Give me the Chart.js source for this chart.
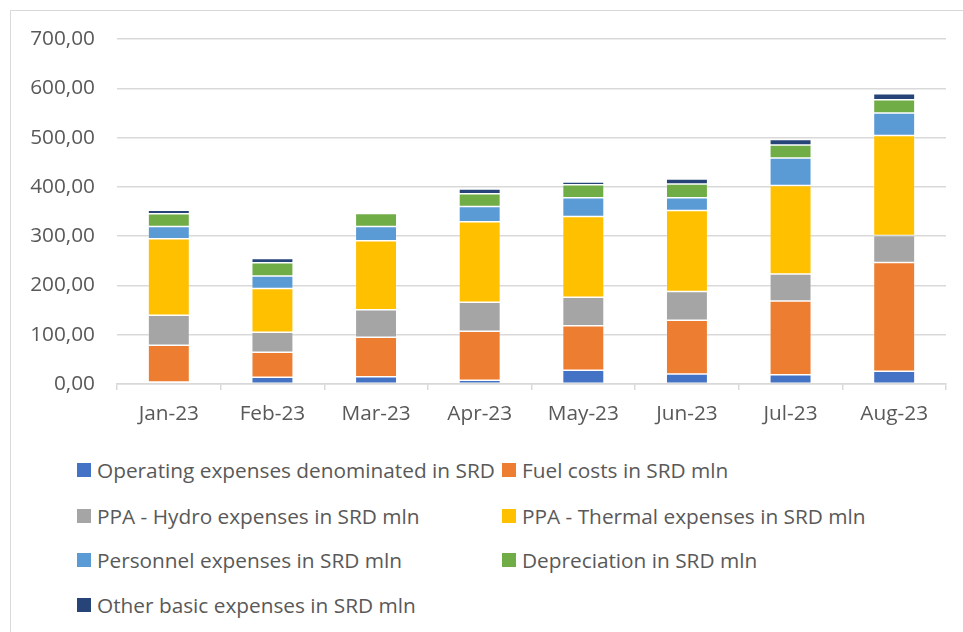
<!DOCTYPE html>
<html>
<head>
<meta charset="utf-8">
<script src="https://cdn.jsdelivr.net/npm/chart.js@4.4.1/dist/chart.umd.min.js"></script>
<style>
  html, body { margin: 0; padding: 0; background: #fff; }
  body { width: 963px; height: 632px; position: relative; overflow: hidden; font-family: "Open Sans", sans-serif; }
  #frame { position: absolute; left: 10px; top: 10px; right: -5px; bottom: -5px; border-left: 1.5px solid #d9d9d9; border-top: 1.5px solid #d9d9d9; }
  #wrap { position: absolute; left: 0; top: 0; width: 963px; height: 440px; }
  #legend { position: absolute; left: 0; top: 0; }
  .item { position: absolute; display: flex; align-items: center; color: #595959; font-size: 20.8px; white-space: nowrap; }
  .box { width: 14px; height: 14px; margin-right: 6px; }
</style>
</head>
<body>
<div id="frame"></div>
<div id="wrap"><canvas id="chart"></canvas></div>
<div id="legend"></div>
<script>
// months on the x axis
const months = ['Jan-23', 'Feb-23', 'Mar-23', 'Apr-23', 'May-23', 'Jun-23', 'Jul-23', 'Aug-23'];

// series (SRD mln)
const operating   = [4, 13.6, 14.8, 7.5, 27.8, 20.3, 19, 25.8];
const fuel        = [74.6, 50.8, 80, 99.5, 90.6, 109.1, 149.6, 220.6];
const ppaHydro    = [61, 40.6, 56.1, 58.9, 57.7, 58.1, 54.8, 54.8];
const ppaThermal  = [155, 88.6, 139.5, 163.1, 163.7, 164.5, 179.4, 203.1];
const personnel   = [25, 25.7, 29.1, 31.1, 38, 25.8, 55.6, 45.5];
const depreciation = [26, 26.5, 26.4, 25.8, 26.4, 27.8, 26.4, 27];
const otherBasic  = [6.7, 8.7, 2.8, 9.5, 5.5, 10.1, 11.4, 12.2];

const seriesNames = [
  'Operating expenses denominated in SRD',
  'Fuel costs in SRD mln',
  'PPA - Hydro expenses in SRD mln',
  'PPA - Thermal expenses in SRD mln',
  'Personnel expenses in SRD mln',
  'Depreciation in SRD mln',
  'Other basic expenses in SRD mln'
];
const seriesData = [operating, fuel, ppaHydro, ppaThermal, personnel, depreciation, otherBasic];
const seriesColors = ['#4472C4', '#ED7D31', '#A5A5A5', '#FFC000', '#5B9BD5', '#70AD47', '#264478'];

const yTicks = [0, 100, 200, 300, 400, 500, 600, 700];

const textColor = '#595959';
const gridColor = '#d9d9d9';
Chart.defaults.font.family = '"Open Sans", sans-serif';
Chart.defaults.font.size = 20.8;
Chart.defaults.color = textColor;

const datasets = seriesNames.map((name, i) => ({
  label: name,
  data: seriesData[i],
  backgroundColor: seriesColors[i],
  borderColor: 'rgba(255,255,255,0.3)',
  borderWidth: 0.75,
  borderSkipped: false,
  barPercentage: 0.4,
  categoryPercentage: 1
}));

const chart = new Chart(document.getElementById('chart'), {
  type: 'bar',
  data: { labels: months, datasets: datasets },
  options: {
    responsive: true,
    maintainAspectRatio: false,
    animation: false,
    layout: { padding: { top: 39, right: 17, left: 0, bottom: 0 } },
    plugins: {
      legend: { display: false },
      tooltip: { enabled: false }
    },
    scales: {
      x: {
        stacked: true,
        offset: true,
        grid: { offset: true, drawOnChartArea: false, drawTicks: true, tickLength: 6, color: gridColor, lineWidth: 1.5 },
        border: { display: true, color: gridColor, width: 1.5 },
        ticks: { padding: 12, color: textColor },
        afterFit: s => { s.height = 56; }
      },
      y: {
        stacked: true,
        min: 0,
        max: yTicks[yTicks.length - 1],
        afterBuildTicks: s => { s.ticks = yTicks.map(v => ({ value: v })); },
        grid: { drawTicks: false, color: gridColor, lineWidth: 1.5 },
        border: { display: false },
        ticks: {
          padding: 22,
          color: textColor,
          callback: v => v.toFixed(2).replace('.', ',')
        },
        afterFit: s => { s.width = 117; }
      }
    }
  }
});

// legend in two columns, under the chart
const legend = document.getElementById('legend');
const colX = [77, 502];
const rowY = [470, 516, 560, 605];
chart.data.datasets.forEach((ds, i) => {
  const el = document.createElement('div');
  el.className = 'item';
  el.style.left = colX[i % 2] + 'px';
  el.style.top = (rowY[Math.floor(i / 2)] - 14) + 'px';
  el.style.height = '28px';
  const box = document.createElement('span');
  box.className = 'box';
  box.style.background = ds.backgroundColor;
  const txt = document.createElement('span');
  txt.textContent = ds.label;
  el.appendChild(box);
  el.appendChild(txt);
  legend.appendChild(el);
});
</script>
</body>
</html>
